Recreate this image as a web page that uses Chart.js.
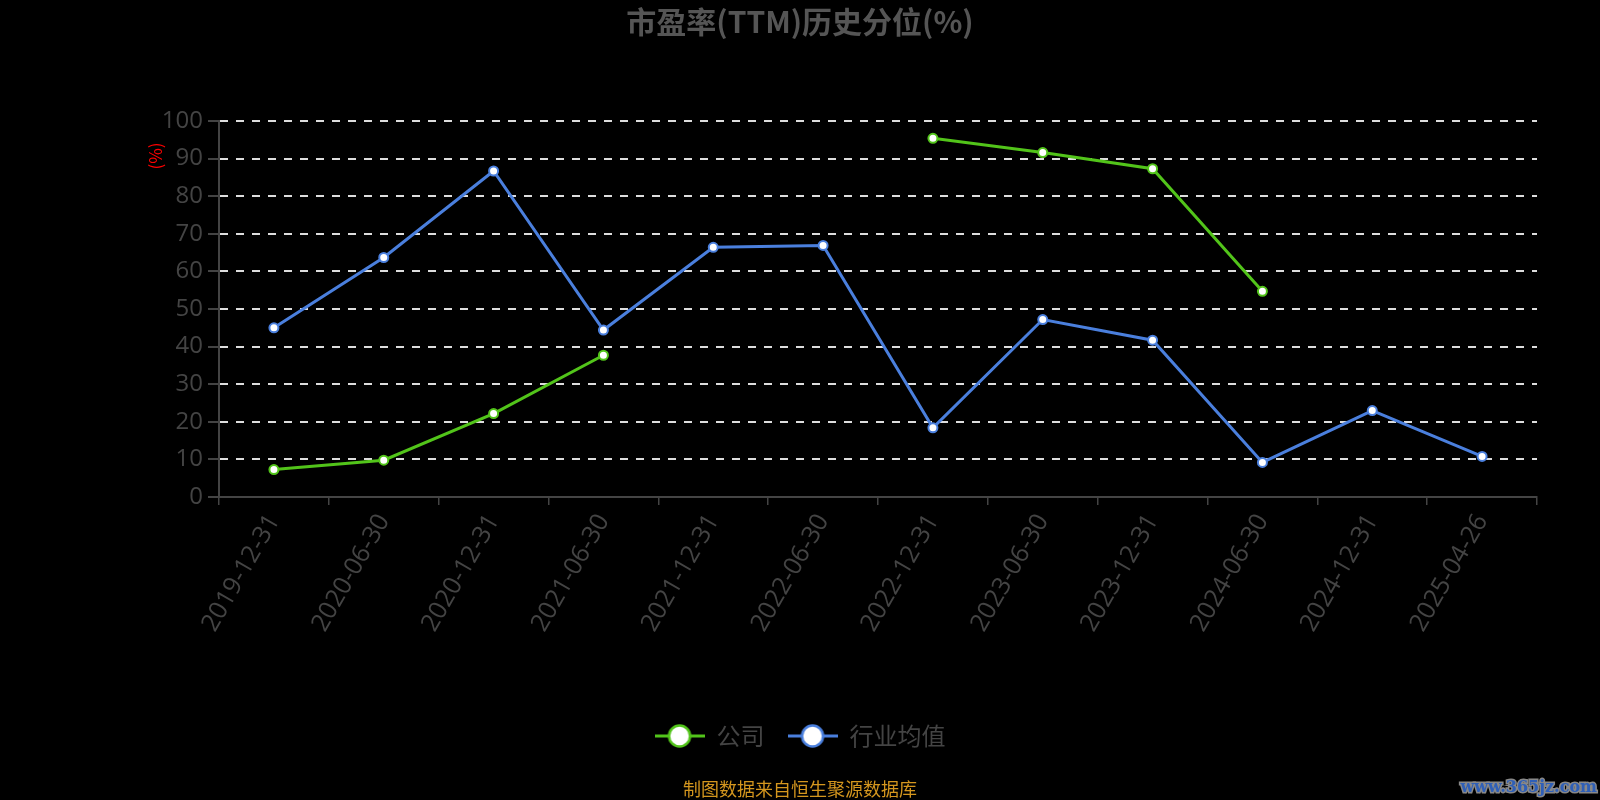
<!DOCTYPE html>
<html>
<head>
<meta charset="utf-8">
<script src="https://cdn.jsdelivr.net/npm/chart.js@4"></script>
<style>
  html, body { margin: 0; padding: 0; background: #000; }
  #wrap { width: 1600px; height: 800px; position: relative; }
</style>
</head>
<body>
<div id="wrap"><canvas id="peChart" width="1600" height="800"></canvas></div>
<script>
// categories and series
const dates = ["2019-12-31", "2020-06-30", "2020-12-31", "2021-06-30", "2021-12-31", "2022-06-30",
               "2022-12-31", "2023-06-30", "2023-12-31", "2024-06-30", "2024-12-31", "2025-04-26"];
const companyValues = [7.3, 9.8, 22.2, 37.7, null, null, 95.4, 91.6, 87.3, 54.7, null, null];
const industryValues = [45.0, 63.7, 86.7, 44.4, 66.4, 66.9, 18.4, 47.2, 41.7, 9.2, 23.0, 10.8];
const yTicks = [0, 10, 20, 30, 40, 50, 60, 70, 80, 90, 100];

const GREEN = "#52c41a";
const BLUE = "#4a7fdd";
const GREY = "#444444";

// legend marker: short line with a circle in the middle
function legendMarker(color) {
    const c = document.createElement("canvas");
    c.width = 50; c.height = 26;
    const g = c.getContext("2d");
    g.strokeStyle = color;
    g.lineWidth = 3;
    g.beginPath(); g.moveTo(0, 13); g.lineTo(50, 13); g.stroke();
    g.fillStyle = "#fff";
    g.lineWidth = 2.5;
    g.beginPath(); g.arc(25, 13, 10.5, 0, Math.PI * 2); g.fill(); g.stroke();
    return c;
}

// extra text: axis unit, source line, watermark
const extras = {
    id: "extras",
    afterDraw(chart) {
        const ctx = chart.ctx;
        const area = chart.chartArea;
        ctx.save();
        ctx.translate(156, area.top + 35);
        ctx.rotate(-Math.PI / 2);
        ctx.fillStyle = "#ff0000";
        ctx.font = "17px 'Noto Sans CJK SC'";
        ctx.textAlign = "center";
        ctx.textBaseline = "middle";
        ctx.fillText("(%)", 0, 0);
        ctx.restore();

        ctx.save();
        ctx.fillStyle = "#d4961e";
        ctx.font = "18px 'Noto Sans CJK SC'";
        ctx.textAlign = "center";
        ctx.textBaseline = "middle";
        ctx.fillText("制图数据来自恒生聚源数据库", 800, 789);

        ctx.font = "bold 16px 'DejaVu Serif'";
        ctx.textAlign = "right";
        ctx.lineWidth = 3;
        ctx.strokeStyle = "#888";
        ctx.strokeText("www.365jz.com", 1597, 788);
        ctx.fillStyle = "#2e5fb8";
        ctx.fillText("www.365jz.com", 1597, 788);
        ctx.restore();
    }
};

const ctx = document.getElementById("peChart").getContext("2d");
new Chart(ctx, {
    type: "line",
    data: {
        labels: dates,
        datasets: [
            {
                label: "公司",
                data: companyValues,
                borderColor: GREEN,
                backgroundColor: "#fff",
                borderWidth: 3,
                pointRadius: 4.5,
                pointBorderWidth: 2,
                pointBorderColor: GREEN,
                pointBackgroundColor: "#fff",
                spanGaps: false,
                tension: 0
            },
            {
                label: "行业均值",
                data: industryValues,
                borderColor: BLUE,
                backgroundColor: "#fff",
                borderWidth: 3,
                pointRadius: 4.5,
                pointBorderWidth: 2,
                pointBorderColor: BLUE,
                pointBackgroundColor: "#fff",
                tension: 0
            }
        ]
    },
    options: {
        responsive: false,
        animation: false,
        layout: { padding: { left: 63, right: 63, top: 0, bottom: 42 } },
        plugins: {
            title: {
                display: true,
                text: "市盈率(TTM)历史分位(%)",
                color: "#555",
                font: { size: 30, weight: "bold", family: "'Noto Sans CJK SC'" },
                padding: { top: 4, bottom: 81 }
            },
            legend: {
                position: "bottom",
                labels: {
                    usePointStyle: true,
                    pointStyleWidth: 50,
                    generateLabels: function(chart) {
                        return chart.data.datasets.map((ds, i) => ({
                            text: ds.label,
                            pointStyle: legendMarker(ds.borderColor),
                            fontColor: GREY,
                            strokeStyle: ds.borderColor,
                            fillStyle: "#fff",
                            lineWidth: 0,
                            hidden: false,
                            datasetIndex: i
                        }));
                    },
                    color: GREY,
                    font: { size: 24, family: "'Noto Sans CJK SC'" },
                    padding: 23
                }
            },
            tooltip: { enabled: false }
        },
        scales: {
            x: {
                offset: true,
                grid: {
                    display: true,
                    drawOnChartArea: false,
                    offset: true,
                    color: GREY,
                    lineWidth: 1.5,
                    tickLength: 8
                },
                border: { display: true, color: GREY, width: 2 },
                ticks: {
                    color: GREY,
                    font: { size: 25, family: "'Open Sans'" },
                    maxRotation: 60,
                    minRotation: 60,
                    autoSkip: false,
                    padding: 4
                },
                afterFit: function(scale) { scale.height = 204; }
            },
            y: {
                min: 0,
                max: 100,
                afterBuildTicks: function(scale) { scale.ticks = yTicks.map(v => ({ value: v })); },
                grid: {
                    color: "#dddddd",
                    lineWidth: 2,
                    tickLength: 11,
                    tickColor: GREY,
                    tickWidth: 2
                },
                border: { display: true, color: GREY, width: 2, dash: [8, 8] },
                ticks: {
                    color: GREY,
                    font: { size: 24, family: "'Open Sans'" },
                    padding: 5
                },
                afterFit: function(scale) { scale.width = 156; }
            }
        }
    },
    plugins: [extras]
});
</script>
</body>
</html>
